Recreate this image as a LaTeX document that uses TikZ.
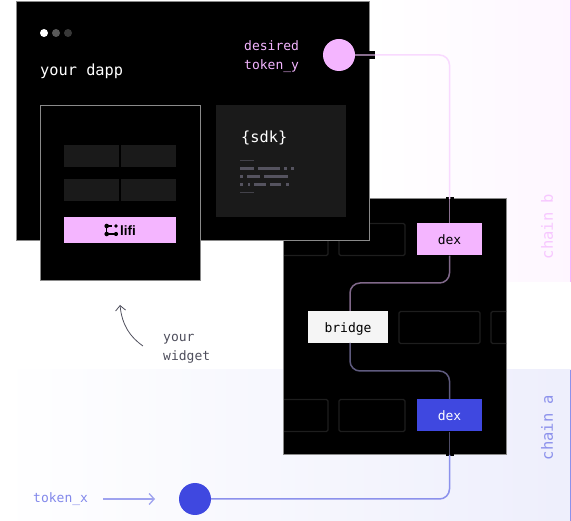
\documentclass[tikz,border=0pt]{standalone}
\usepackage{fontspec}
\setmainfont{Liberation Sans}
\setmonofont{DejaVu Sans Mono}
\usetikzlibrary{arrows.meta}
\definecolor{pinkfill}{HTML}{F4B5FF}
\definecolor{bluefill}{HTML}{3F48E0}
\definecolor{panel}{HTML}{1A1A1A}
\definecolor{ghost}{HTML}{1E1E1E}
\definecolor{frame}{HTML}{8A8A8A}
\definecolor{greytext}{HTML}{4E4E5C}
\definecolor{codebar}{HTML}{55535F}
\definecolor{linkb}{HTML}{8A6F90}
\definecolor{linkc}{HTML}{80688A}
\definecolor{linkd}{HTML}{5E5A7E}
\definecolor{linke}{HTML}{4E4C68}
\tikzset{
  blackbox/.style={draw=frame, fill=black, line width=1pt, inner sep=0pt},
  panelbox/.style={fill=panel, inner sep=0pt},
  ghostbox/.style={draw=ghost, line width=1.2pt, rounded corners=1.5pt, inner sep=0pt, minimum height=32pt},
  hopbox/.style={inner sep=0pt, minimum height=32pt, text depth=0pt, font=\ttfamily\fontsize{13}{15}\selectfont},
  dot/.style={circle, inner sep=0pt, minimum size=32pt},
  link/.style={line width=1.5pt, rounded corners=10pt},
  label/.style={inner sep=0pt, anchor=west, font=\ttfamily\fontsize{13}{19}\selectfont},
}
\begin{document}
\begin{tikzpicture}[x=1pt, y=-1pt]
    \useasboundingbox (0,0) rectangle (571,521);

    % chain bands
    \shade[left color=white, right color=pinkfill!12] (370,0) rectangle (571,282);
    \shade[left color=white, right color=bluefill!9] (0,370) rectangle (571,521);
    \fill[pinkfill] (570,0) rectangle (571,282);
    \fill[bluefill!60] (570,370) rectangle (571,521);
    \node[rotate=90, font=\ttfamily\fontsize{15.5}{18}\selectfont, text=pinkfill!75] (chainb) at (547,226.5) {chain b};
    \node[rotate=90, font=\ttfamily\fontsize{15.5}{18}\selectfont, text=bluefill!60] (chaina) at (547,427.5) {chain a};

    % route box
    \node[blackbox, minimum width=223pt, minimum height=256pt] (routebox) at (395,327) {};
    \begin{scope}
      \clip (284,200) rectangle (506,454);
      \node[ghostbox, minimum width=60pt] (ghostb1) at (298,239.5) {};
      \node[ghostbox, minimum width=66pt] (ghostb2) at (372,239.5) {};
      \node[ghostbox, minimum width=81pt] (ghostm1) at (439.5,327.5) {};
      \node[ghostbox, minimum width=40pt] (ghostm2) at (511,327.5) {};
      \node[ghostbox, minimum width=60pt] (ghosta1) at (298,415.5) {};
      \node[ghostbox, minimum width=66pt] (ghosta2) at (372,415.5) {};
    \end{scope}
    \node[hopbox, fill=pinkfill, minimum width=65pt] (dexb) at (449.5,239.5) {dex};
    \node[hopbox, fill=white!96!black, minimum width=80pt] (bridge) at (348,327.5) {bridge};
    \node[hopbox, fill=bluefill, text=white, minimum width=65pt] (dexa) at (449.5,415.5) {dex};

    % dapp window
    \node[blackbox, minimum width=353pt, minimum height=239.5pt] (dapp) at (193,120.8) {};
    \fill[white] (44,33) circle (4pt);
    \fill[white!35!black] (56,33) circle (4pt);
    \fill[white!22!black] (68,33) circle (4pt);
    \node[label, text=white, font=\ttfamily\fontsize{15.3}{18}\selectfont] (dapptitle) at (40,71) {your dapp};
    \node[label, text=pinkfill, align=left] (desired) at (244,57) {desired\\token\_y};
    \node[dot, fill=pinkfill] (tokeny) at (339,55) {};

    % sdk panel
    \node[panelbox, minimum width=130pt, minimum height=112pt] (sdk) at (281,161) {};
    \node[label, text=white, font=\ttfamily\fontsize{15.3}{18}\selectfont] (sdktext) at (241,138) {\{sdk\}};
    \foreach \x/\y/\w in {240/169/14, 258/169/22, 284/169/3, 291/169/3,
      240/177/3, 247/177/13, 264/177/24,
      240/185/3, 248/185/2, 254/185/12, 270/185/11, 286/185/3}
      \fill[codebar] (\x,\y-1.5) rectangle ++(\w,3);
    \fill[codebar!70!panel] (240,160) rectangle ++(14,1.5);
    \fill[codebar!70!panel] (240,192) rectangle ++(14,1.5);

    % widget
    \node[blackbox, minimum width=160pt, minimum height=175.5pt] (widget) at (120,192.8) {};
    \node[panelbox, minimum width=55pt, minimum height=22pt] (fielda) at (91.5,156) {};
    \node[panelbox, minimum width=55pt, minimum height=22pt] (fieldb) at (148.5,156) {};
    \node[panelbox, minimum width=55pt, minimum height=22pt] (fieldc) at (91.5,190) {};
    \node[panelbox, minimum width=55pt, minimum height=22pt] (fieldd) at (148.5,190) {};
    \node[panelbox, fill=pinkfill, minimum width=112pt, minimum height=26pt] (lifibtn) at (120,230) {};
    \node[inner sep=0pt, font=\bfseries\fontsize{13.5}{15}\selectfont] (lifi) at (128,230.5) {lifi};
    \fill (106.7,226) circle (2.3pt) (106.7,234) circle (2.3pt) (116,234) circle (2.1pt) (116,226) circle (1.9pt);
    \draw[line width=1.5pt] (116,234) -- (106.7,234) -- (106.7,226) -- (112,226);

    % link stubs
    \fill (369,51.5) rectangle (375,59);
    \fill (445.5,197.5) rectangle (453.5,202);
    \fill (445.5,452) rectangle (453.5,456.5);
    \coordinate (stubb) at (375,55);
    \coordinate (gateb) at (449.5,199);
    \coordinate (gatea) at (449.5,455);
    \coordinate (kneeb) at (449.5,283);
    \coordinate (kneec) at (350,283);
    \coordinate (bridgein) at (350,311);
    \coordinate (bridgeout) at (350,343);
    \coordinate (kneed) at (350,371);
    \coordinate (kneee) at (449.5,371);

    % links
    \node[dot, fill=bluefill] (tokenx) at (195,499) {};
    \draw[link, pinkfill!50] (stubb) -| (gateb);
    \draw[link, linkb] (tokeny) -- (stubb);
    \draw[link, linkb] (gateb) -- (dexb.north);
    \draw[link, linkc] (dexb.south) -- (kneeb) -- (kneec) -- (bridgein);
    \draw[link, linkd] (bridgeout) -- (kneed) -- (kneee) -- (dexa.north);
    \draw[link, linke] (dexa.south) -- (gatea);
    \draw[link, bluefill!60] (gatea) |- (tokenx);

    % token_x
    \node[label, text=bluefill!65] (tokenxtext) at (33,499) {token\_x};
    \coordinate (arrowstart) at (103,499);
    \coordinate (arrowend) at (155,499);
    \draw[line width=1.3pt, bluefill!50, -{Straight Barb[length=5pt, width=11pt]}] (arrowstart) -- (arrowend);

    % your widget
    \node[label, text=greytext, align=left] (widgetnote) at (163,349) {your\\widget};
    \coordinate (notestart) at (143,346);
    \coordinate (noteend) at (120,305);
    \draw[line width=0.8pt, greytext, -{Straight Barb[length=5pt, width=10pt]}] (notestart) .. controls (130,337) and (122,325) .. (noteend);
  \end{tikzpicture}
\end{document}
